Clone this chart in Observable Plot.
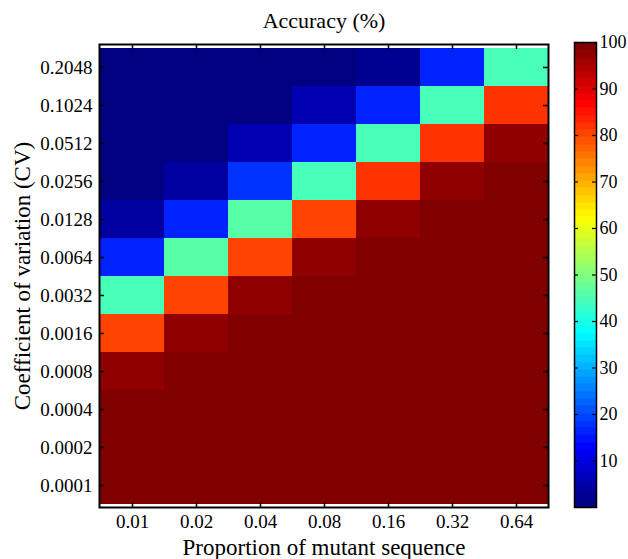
<!DOCTYPE html>
<html>
<head>
<meta charset="utf-8">
<script src="https://cdn.jsdelivr.net/npm/d3@7"></script>
<script src="https://cdn.jsdelivr.net/npm/@observablehq/plot@0.6"></script>
<style>
  body { margin: 0; background: white; }
  #wrap { position: relative; width: 628px; height: 559px; background: white; overflow: hidden; }
  #wrap svg { position: absolute; top: 0; }
  #wrap svg, #wrap svg text, #wrap svg g { font-family: "Liberation Serif", "Times New Roman", serif !important; }
</style>
</head>
<body>
<div id="wrap"></div>
<script>
// Columns: proportion of mutant sequence
const proportions = ["0.01", "0.02", "0.04", "0.08", "0.16", "0.32", "0.64"];
// Rows: coefficient of variation (top to bottom)
const cvLevels = ["0.2048", "0.1024", "0.0512", "0.0256", "0.0128", "0.0064",
                  "0.0032", "0.0016", "0.0008", "0.0004", "0.0002", "0.0001"];
// Accuracy (%) per row, one value per proportion
const accCV2048 = [0.5, 0.5, 0.5, 0.5, 2, 16, 44];
const accCV1024 = [0.5, 0.5, 0.5, 5, 16, 44, 82];
const accCV0512 = [0.5, 0.5, 5, 17, 44, 82, 97.5];
const accCV0256 = [0.5, 4.5, 18, 44, 82, 97.5, 99.5];
const accCV0128 = [4.5, 17, 46, 81, 97.5, 99.5, 99.5];
const accCV0064 = [17, 46, 81, 97, 99.5, 99.5, 99.5];
const accCV0032 = [44, 81, 97, 99.5, 99.5, 99.5, 99.5];
const accCV0016 = [81, 97, 99.5, 99.5, 99.5, 99.5, 99.5];
const accCV0008 = [98, 99.5, 100, 100, 100, 100, 100];
const accCV0004 = [100, 100, 100, 100, 100, 100, 100];
const accCV0002 = [100, 100, 100, 100, 100, 100, 100];
const accCV0001 = [100, 100, 100, 100, 100, 100, 100];
const colorbarTicks = [10, 20, 30, 40, 50, 60, 70, 80, 90, 100];

const rowsByCV = [accCV2048, accCV1024, accCV0512, accCV0256, accCV0128, accCV0064,
                  accCV0032, accCV0016, accCV0008, accCV0004, accCV0002, accCV0001];
const table = [];
cvLevels.forEach((cv, i) => proportions.forEach((p, j) => table.push({cv, p, acc: rowsByCV[i][j]})));

const clamp = v => Math.max(0, Math.min(1, v));
const jet = t => {
  const r = clamp(1.5 - Math.abs(4 * t - 3));
  const g = clamp(1.5 - Math.abs(4 * t - 2));
  const b = clamp(1.5 - Math.abs(4 * t - 1));
  return `rgb(${Math.round(r * 255)},${Math.round(g * 255)},${Math.round(b * 255)})`;
};
const jet64 = t => jet(Math.min(63, Math.max(0, Math.floor(t * 64))) / 63);

const font = '"Liberation Serif", "Times New Roman", serif';
const W = 560, H = 559, mL = 99, mR = 12, mT = 44, mB = 52;
const pw = W - mL - mR, ph = H - mT - mB;

const main = Plot.plot({
  width: W, height: H,
  marginLeft: mL, marginRight: mR, marginTop: mT, marginBottom: mB,
  style: {fontFamily: font, fontSize: "19px", background: "white", color: "black"},
  x: {domain: proportions, padding: 0, label: null},
  y: {domain: cvLevels, padding: 0, label: null},
  color: {type: "linear", domain: [0, 100], interpolate: jet64},
  marks: [
    Plot.cell(table, {x: "p", y: "cv", fill: "acc", shapeRendering: "crispEdges"}),
    Plot.axisX({anchor: "bottom", tickSize: 0, tickPadding: 7, fontSize: 19}),
    Plot.axisY({anchor: "left", tickSize: 0, tickPadding: 7, fontSize: 19}),
    Plot.tickX(proportions, {x: d => d, insetTop: ph - 5, stroke: "black", strokeWidth: 1.5}),
    Plot.tickX(proportions, {x: d => d, insetBottom: ph - 5, stroke: "black", strokeWidth: 1.5}),
    Plot.tickY(cvLevels, {y: d => d, insetRight: pw - 5, stroke: "black", strokeWidth: 1.5}),
    Plot.tickY(cvLevels, {y: d => d, insetLeft: pw - 5, stroke: "black", strokeWidth: 1.5}),
    Plot.frame({stroke: "black", strokeWidth: 2}),
    Plot.text(["Accuracy (%)"], {frameAnchor: "top", dy: -24, lineAnchor: "middle", textAnchor: "middle", fontSize: 22, fill: "black"}),
    Plot.text(["Proportion of mutant sequence"], {frameAnchor: "bottom", dy: 40, lineAnchor: "middle", textAnchor: "middle", fontSize: 23, fill: "black"}),
    Plot.text(["Coefficient of variation (CV)"], {frameAnchor: "left", dx: -77, rotate: -90, lineAnchor: "middle", textAnchor: "middle", fontSize: 23, fill: "black"})
  ]
});

const cbW = 68, cbL = 14, cbR = 32, cbT = 42, cbB = 52;
const cbpw = cbW - cbL - cbR;
const bar = Plot.plot({
  width: cbW, height: H,
  marginLeft: cbL, marginRight: cbR, marginTop: cbT, marginBottom: cbB,
  style: {fontFamily: font, fontSize: "18px", background: "white", color: "black", overflow: "visible"},
  x: {domain: [0, 1], axis: null},
  y: {domain: [0, 100], label: null},
  color: {type: "linear", domain: [0, 100], interpolate: jet64},
  marks: [
    Plot.raster({x1: 0, x2: 1, y1: 0, y2: 100, fill: (x, y) => y}),
    Plot.axisY(colorbarTicks, {anchor: "right", tickSize: 0, tickPadding: 3, fontSize: 18}),
    Plot.tickY(colorbarTicks, {y: d => d, insetRight: cbpw - 4, stroke: "black", strokeWidth: 1.2}),
    Plot.tickY(colorbarTicks, {y: d => d, insetLeft: cbpw - 4, stroke: "black", strokeWidth: 1.2}),
    Plot.frame({stroke: "black", strokeWidth: 1.5})
  ]
});

const wrap = document.getElementById("wrap");
main.style.left = "0px";
bar.style.left = "560px";
wrap.appendChild(main);
wrap.appendChild(bar);
</script>
</body>
</html>
